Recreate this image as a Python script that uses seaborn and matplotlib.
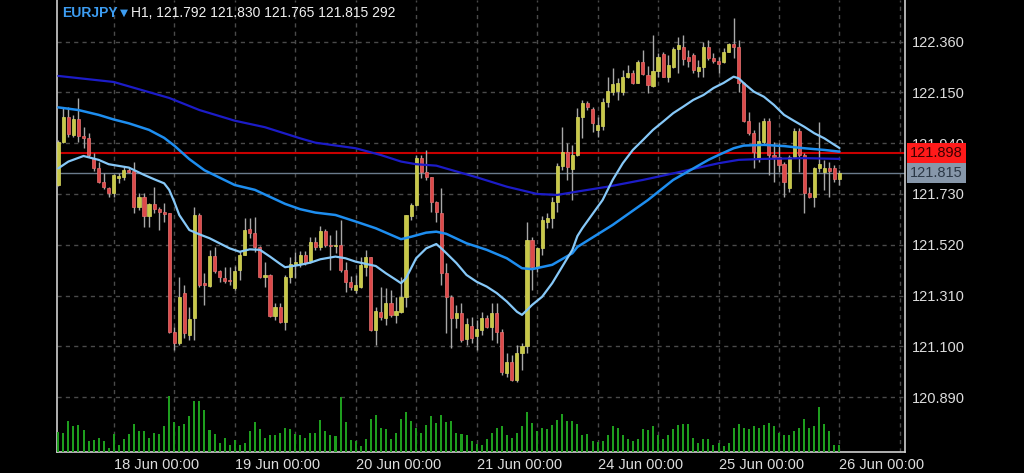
import numpy as np
import pandas as pd
import matplotlib
matplotlib.use('Agg')
import matplotlib.pyplot as plt
import matplotlib.transforms as mtransforms
import seaborn as sns

# EURJPY H1 bars, 17 Jun 13:00 -> 26 Jun 00:00
opens = [121.767, 121.946, 122.047, 121.974, 122.040, 121.970, 121.960, 121.878, 121.839, 121.781,
         121.754, 121.733, 121.795, 121.799, 121.829, 121.826, 121.678, 121.716, 121.639, 121.687,
         121.667, 121.657, 121.650, 121.158, 121.115, 121.322, 121.147, 121.216, 121.643, 121.363,
         121.351, 121.475, 121.412, 121.382, 121.375, 121.340, 121.416, 121.478, 121.584, 121.568,
         121.510, 121.386, 121.395, 121.226, 121.264, 121.202, 121.388, 121.441, 121.446, 121.478,
         121.454, 121.533, 121.512, 121.578, 121.519, 121.515, 121.519, 121.416, 121.367, 121.333,
         121.347, 121.430, 121.468, 121.168, 121.243, 121.216, 121.278, 121.230, 121.243, 121.305,
         121.639, 121.685, 121.878, 121.822, 121.799, 121.698, 121.653, 121.402, 121.305, 121.216,
         121.239, 121.129, 121.184, 121.144, 121.168, 121.216, 121.181, 121.239, 121.161, 120.991,
         121.037, 120.961, 121.071, 121.102, 121.540, 121.428, 121.506, 121.616, 121.630, 121.698,
         121.846, 121.905, 121.833, 121.891, 122.047, 122.105, 122.081, 121.995, 122.011, 122.112,
         122.153, 122.156, 122.153, 122.215, 122.229, 122.190, 122.277, 122.222, 122.176, 122.240,
         122.308, 122.215, 122.256, 122.329, 122.336, 122.298, 122.305, 122.240, 122.254, 122.339,
         122.294, 122.280, 122.277, 122.318, 122.349, 122.339, 122.188, 122.032, 121.981, 121.878,
         121.946, 122.032, 121.891, 121.883, 121.853, 121.754, 121.884, 121.990, 121.891, 121.733,
         121.719, 121.839, 121.822, 121.839, 121.836, 121.792]
highs = [121.953, 122.084, 122.091, 122.057, 122.127, 122.008, 121.982, 121.898, 121.864, 121.816,
         121.758, 121.813, 121.816, 121.843, 121.836, 121.864, 121.733, 121.733, 121.692, 121.758,
         121.678, 121.694, 121.652, 121.181, 121.388, 121.354, 121.264, 121.678, 121.650, 121.402,
         121.499, 121.512, 121.416, 121.430, 121.427, 121.432, 121.494, 121.630, 121.630, 121.636,
         121.515, 121.450, 121.397, 121.278, 121.278, 121.395, 121.471, 121.492, 121.494, 121.494,
         121.554, 121.554, 121.598, 121.584, 121.561, 121.581, 121.623, 121.450, 121.391, 121.395,
         121.471, 121.499, 121.471, 121.264, 121.347, 121.340, 121.333, 121.305, 121.386, 121.645,
         121.692, 121.891, 121.891, 121.912, 121.802, 121.701, 121.754, 121.444, 121.312, 121.271,
         121.278, 121.219, 121.223, 121.209, 121.243, 121.230, 121.278, 121.278, 121.171, 121.071,
         121.064, 121.106, 121.113, 121.616, 121.554, 121.512, 121.639, 121.650, 121.719, 121.857,
         122.008, 121.940, 121.933, 122.084, 122.119, 122.116, 122.091, 122.050, 122.126, 122.215,
         122.250, 122.208, 122.243, 122.263, 122.243, 122.284, 122.325, 122.259, 122.387, 122.312,
         122.318, 122.305, 122.339, 122.380, 122.387, 122.325, 122.312, 122.284, 122.360, 122.367,
         122.312, 122.298, 122.332, 122.353, 122.456, 122.367, 122.194, 122.070, 121.995, 122.029,
         122.043, 122.043, 121.946, 121.940, 121.864, 121.891, 122.002, 122.002, 121.898, 121.760,
         121.843, 122.029, 121.871, 121.864, 121.850, 121.830]
lows = [121.763, 121.940, 121.967, 121.964, 121.946, 121.919, 121.884, 121.826, 121.774, 121.749,
        121.719, 121.719, 121.774, 121.788, 121.816, 121.650, 121.664, 121.592, 121.592, 121.650,
        121.581, 121.616, 121.154, 121.085, 121.106, 121.135, 121.126, 121.126, 121.347, 121.271,
        121.347, 121.402, 121.367, 121.361, 121.354, 121.333, 121.375, 121.476, 121.547, 121.492,
        121.382, 121.347, 121.223, 121.209, 121.196, 121.168, 121.361, 121.382, 121.430, 121.437,
        121.444, 121.499, 121.499, 121.512, 121.416, 121.485, 121.408, 121.326, 121.333, 121.320,
        121.340, 121.391, 121.165, 121.106, 121.209, 121.188, 121.223, 121.196, 121.239, 121.264,
        121.623, 121.680, 121.795, 121.788, 121.657, 121.616, 121.354, 121.155, 121.092, 121.175,
        121.119, 121.106, 121.113, 121.085, 121.147, 121.175, 121.126, 121.113, 120.982, 120.975,
        120.958, 120.954, 121.002, 121.071, 121.333, 121.409, 121.478, 121.588, 121.588, 121.657,
        121.829, 121.788, 121.705, 121.889, 121.960, 122.077, 121.988, 121.967, 121.995, 122.091,
        122.139, 122.119, 122.139, 122.208, 122.185, 122.188, 122.222, 122.146, 122.174, 122.215,
        122.212, 122.194, 122.250, 122.229, 122.263, 122.256, 122.229, 122.215, 122.215, 122.284,
        122.270, 122.229, 122.270, 122.316, 122.291, 122.153, 122.029, 121.974, 121.836, 121.864,
        121.933, 121.809, 121.781, 121.822, 121.719, 121.740, 121.878, 121.822, 121.650, 121.712,
        121.678, 121.822, 121.747, 121.719, 121.781, 121.765]
closes = [121.946, 122.050, 121.977, 122.040, 121.970, 121.963, 121.891, 121.836, 121.781, 121.758,
          121.733, 121.809, 121.804, 121.829, 121.822, 121.678, 121.716, 121.639, 121.687, 121.667,
          121.657, 121.646, 121.161, 121.115, 121.305, 121.154, 121.212, 121.643, 121.354, 121.354,
          121.475, 121.412, 121.386, 121.372, 121.370, 121.412, 121.478, 121.581, 121.568, 121.510,
          121.386, 121.395, 121.226, 121.262, 121.202, 121.388, 121.441, 121.450, 121.478, 121.446,
          121.533, 121.510, 121.578, 121.519, 121.515, 121.519, 121.416, 121.367, 121.344, 121.354,
          121.437, 121.468, 121.168, 121.248, 121.223, 121.278, 121.230, 121.248, 121.303, 121.643,
          121.685, 121.878, 121.822, 121.802, 121.698, 121.657, 121.402, 121.305, 121.216, 121.239,
          121.126, 121.191, 121.133, 121.171, 121.216, 121.181, 121.239, 121.161, 120.995, 121.037,
          120.961, 121.071, 121.102, 121.540, 121.430, 121.506, 121.623, 121.630, 121.698, 121.846,
          121.905, 121.843, 121.891, 122.050, 122.105, 122.088, 122.022, 122.015, 122.112, 122.157,
          122.185, 122.188, 122.215, 122.231, 122.190, 122.277, 122.226, 122.181, 122.240, 122.295,
          122.215, 122.263, 122.329, 122.346, 122.287, 122.281, 122.243, 122.254, 122.339, 122.291,
          122.280, 122.266, 122.318, 122.349, 122.339, 122.188, 122.032, 121.981, 121.905, 121.949,
          122.032, 121.891, 121.883, 121.850, 121.781, 121.884, 121.990, 121.891, 121.733, 121.719,
          121.839, 121.853, 121.836, 121.825, 121.792, 121.815]
volumes = [870, 840, 1340, 1120, 1160, 950, 470, 510, 620, 470,
           170, 800, 290, 570, 800, 1230, 900, 900, 620, 840,
           800, 1120, 2440, 1290, 1120, 1230, 1560, 2220, 2220, 1830,
           950, 800, 410, 620, 290, 510, 290, 410, 900, 1290,
           1020, 620, 730, 730, 840, 1060, 1020, 800, 730, 620,
           840, 840, 1380, 900, 730, 680, 2400, 1290, 510, 470,
           250, 570, 1450, 1610, 1060, 1020, 570, 840, 1450, 1730,
           1340, 1060, 840, 1160, 1570, 1280, 1610, 1310, 1340, 840,
           800, 730, 470, 360, 290, 570, 840, 1060, 1120, 730,
           620, 840, 1120, 1730, 1280, 900, 1060, 1000, 1160, 1380,
           1670, 1340, 1340, 1230, 730, 800, 470, 440, 470, 730,
           1120, 1060, 730, 570, 470, 570, 1000, 950, 1120, 730,
           570, 730, 1000, 1160, 1230, 1230, 620, 410, 570, 570,
           290, 410, 250, 410, 1060, 1230, 1060, 1000, 1120, 1060,
           1160, 1280, 1120, 840, 730, 730, 900, 1060, 1450, 1060,
           1120, 1950, 1230, 900, 290, 292]

# moving average lines (bar index, price)
ma_fast_idx = [0, 2, 5, 8, 10, 12, 14, 17, 19, 21, 22, 23, 24, 26, 28, 30, 32, 34, 36, 38,
               40, 42, 44, 45, 48, 50, 52, 55, 57, 59, 61, 63, 65, 67, 68, 69, 70, 71, 73, 75,
               76, 77, 79, 81, 83, 85, 87, 89, 91, 92, 93, 94, 96, 98, 100, 102, 103, 104, 106, 108,
               110, 112, 114, 116, 118, 120, 122, 124, 126, 128, 130, 132, 134, 135, 136, 138, 140, 142, 144, 146,
               148, 150, 152, 154, 155]
ma_fast = [121.836, 121.864, 121.887, 121.871, 121.853, 121.846, 121.839, 121.809, 121.791, 121.774,
           121.747, 121.698, 121.643, 121.581, 121.563, 121.547, 121.526, 121.505, 121.491, 121.501,
           121.499, 121.471, 121.441, 121.427, 121.437, 121.446, 121.460, 121.471, 121.464, 121.450,
           121.441, 121.432, 121.402, 121.375, 121.361, 121.382, 121.423, 121.464, 121.505, 121.523,
           121.505, 121.485, 121.444, 121.395, 121.367, 121.347, 121.320, 121.285, 121.243, 121.230,
           121.250, 121.271, 121.305, 121.361, 121.430, 121.499, 121.556, 121.589, 121.647, 121.705,
           121.788, 121.857, 121.912, 121.953, 121.995, 122.029, 122.064, 122.091, 122.119, 122.139,
           122.168, 122.189, 122.215, 122.208, 122.188, 122.153, 122.132, 122.098, 122.057, 122.032,
           122.008, 121.981, 121.960, 121.933, 121.920]
ma_mid_idx = [0, 4, 8, 11, 14, 18, 21, 23, 26, 29, 35, 39, 45, 48, 51, 55, 59, 63, 68,
              70, 73, 75, 77, 81, 85, 89, 92, 94, 98, 102, 103, 110, 117, 122, 129, 131, 134, 136, 140,
              144, 148, 152, 155]
ma_mid = [122.088, 122.077, 122.057, 122.038, 122.022, 121.995, 121.962, 121.930, 121.874,
          121.828, 121.767, 121.747, 121.689, 121.667, 121.653, 121.643, 121.616, 121.588, 121.543,
          121.553, 121.570, 121.574, 121.565, 121.526, 121.499, 121.464, 121.423, 121.419, 121.437,
          121.485, 121.511, 121.602, 121.705, 121.788, 121.871, 121.891, 121.919, 121.930, 121.933,
          121.928, 121.919, 121.912, 121.905]
ma_slow_idx = [0, 11, 22, 28, 35, 41, 48, 51, 59, 64, 68, 71, 75, 78, 83, 89, 95, 99, 103, 109,
               116, 122, 128, 131, 135, 140, 148, 155]
ma_slow = [122.218, 122.193, 122.127, 122.077, 122.033, 122.006, 121.960, 121.942, 121.919, 121.891,
           121.864, 121.853, 121.847, 121.829, 121.799, 121.760, 121.730, 121.726, 121.740, 121.760,
           121.788, 121.815, 121.843, 121.857, 121.871, 121.875, 121.878, 121.875]

price_ticks = [122.360, 122.150, 121.940, 121.730, 121.520, 121.310, 121.100, 120.890]
day_ticks = [11, 35, 59, 83, 107, 131, 155]
day_labels = ['18 Jun 00:00', '19 Jun 00:00', '20 Jun 00:00', '21 Jun 00:00',
              '24 Jun 00:00', '25 Jun 00:00', '26 Jun 00:00']
grid_bars = [11, 23, 35, 47, 59, 71, 83, 95, 107, 119, 131, 143, 155, 167]

bid_price = 121.898
last_price = 121.815
symbol = 'EURJPY'
header = 'H1, 121.792 121.830 121.765 121.815 292'

sns.set_theme(style='dark', rc={'axes.facecolor': 'black', 'figure.facecolor': 'black'})
plt.rcParams['font.family'] = ['Liberation Sans', 'DejaVu Sans']

df = pd.DataFrame({'open': opens, 'high': highs, 'low': lows, 'close': closes, 'volume': volumes})
df['bar'] = np.arange(len(df))
up = df['close'] >= df['open']

fig = plt.figure(figsize=(10.24, 4.73), dpi=100, facecolor='black')
ax = fig.add_axes([57 / 1024, 21 / 473, 848 / 1024, 452 / 473])
ax.set_facecolor('black')

# grid
for p in price_ticks:
    ax.axhline(p, color='#4a4a4a', lw=1, ls=(0, (3, 3)), zorder=1)
for b in grid_bars:
    ax.axvline(b, color='#4a4a4a', lw=1, ls=(0, (3, 3)), zorder=1)

# price lines
ax.axhline(bid_price, color='#c80000', lw=1.5, zorder=2)
ax.axhline(last_price, color='#6b7b8c', lw=1.0, zorder=2)

# candles
ax.vlines(df['bar'], df['low'], df['high'], color='#a8a8a8', lw=1, zorder=3)
ax.bar(df['bar'][up], (df['close'] - df['open'])[up], bottom=df['open'][up], width=0.62,
       color='#c8c848', edgecolor='#d8d860', linewidth=0.5, zorder=4)
ax.bar(df['bar'][~up], (df['close'] - df['open'])[~up], bottom=df['open'][~up], width=0.62,
       color='#dd4a4a', edgecolor='#e87070', linewidth=0.5, zorder=4)

# moving averages
sns.lineplot(x=ma_slow_idx, y=ma_slow, ax=ax, color='#1c1cc8', linewidth=1.6, zorder=5)
sns.lineplot(x=ma_mid_idx, y=ma_mid, ax=ax, color='#1e8ef0', linewidth=1.8, zorder=5)
sns.lineplot(x=ma_fast_idx, y=ma_fast, ax=ax, color='#86c8f8', linewidth=1.6, zorder=5)

# volumes at the bottom
axv = ax.twinx()
sns.barplot(x=df['bar'], y=df['volume'], native_scale=True, orient='x', width=0.4,
            color='#1e9e1e', saturation=1, errorbar=None, linewidth=0, ax=axv)
axv.set_ylim(0, 19700)
axv.axis('off')

ax.set_xlim(-0.26, 168.0)
ax.set_ylim(120.663, 122.532)

ax.yaxis.tick_right()
ax.set_yticks(price_ticks)
ax.set_yticklabels(['%.3f' % p for p in price_ticks])
ax.set_xticks(day_ticks)
ax.set_xticklabels(day_labels, ha='left')
ax.tick_params(axis='both', length=0, colors='#dedede', labelsize=10.5)
ax.tick_params(axis='y', pad=5)
ax.tick_params(axis='x', pad=4)
ax.set_xlabel('')
ax.set_ylabel('')

for side in ['left', 'right', 'bottom']:
    ax.spines[side].set_visible(True)
    ax.spines[side].set_color('#cfcfcf')
    ax.spines[side].set_linewidth(1.2)
ax.spines['top'].set_visible(False)

# price tags on the right
tr = mtransforms.blended_transform_factory(ax.transAxes, ax.transData)
ax.text(1.0 + 5 / 848, bid_price, '%.3f' % bid_price, transform=tr, ha='left', va='center',
        fontsize=10.5, color='#3a0000', clip_on=False, zorder=10,
        bbox=dict(boxstyle='square,pad=0.2', fc='#ff1a1a', ec='none'))
ax.text(1.0 + 5 / 848, last_price, '%.3f' % last_price, transform=tr, ha='left', va='center',
        fontsize=10.5, color='#2c3846', clip_on=False, zorder=10,
        bbox=dict(boxstyle='square,pad=0.2', fc='#8797aa', ec='none'))

# header
fig.text(62 / 1024, 1 - 13 / 473, symbol, color='#3d9df2', fontsize=10, weight='bold',
         ha='left', va='center')
fig.text(120 / 1024, 1 - 13 / 473, '\u25bc', color='#3d9df2', fontsize=7.5, ha='left', va='center',
         family=['DejaVu Sans'])
fig.text(131 / 1024, 1 - 13 / 473, header, color='#f0f0f0', fontsize=10, ha='left', va='center')

fig.savefig('out.png', dpi=100, facecolor='black')
